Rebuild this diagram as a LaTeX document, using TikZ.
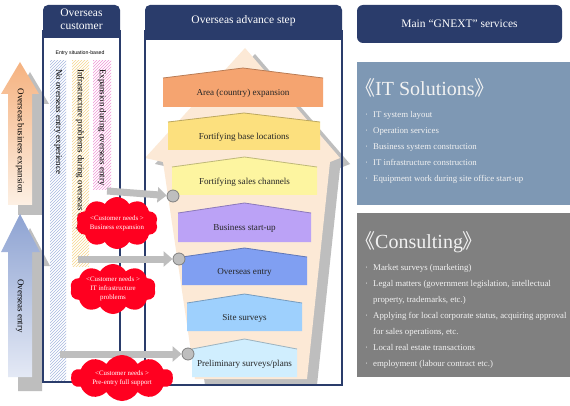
\documentclass[tikz,border=0pt]{standalone}
\usepackage{fontspec}
\setmainfont{Liberation Serif}
\setsansfont{Liberation Sans}
\newfontfamily\cjk{Noto Sans CJK SC}
\usetikzlibrary{arrows.meta,shapes.symbols,patterns}
\definecolor{gnavy}{RGB}{42,60,107}
\definecolor{stepback}{RGB}{252,233,214}
\definecolor{shadowgray}{RGB}{190,190,190}
\definecolor{needred}{RGB}{255,0,32}
\definecolor{itblue}{RGB}{126,152,180}
\definecolor{consultgray}{RGB}{128,128,128}
\definecolor{paneltext}{RGB}{242,242,242}
\definecolor{steporange}{RGB}{245,164,112}
\definecolor{stepyellow}{RGB}{252,224,126}
\definecolor{steplemon}{RGB}{253,245,160}
\definecolor{steppurple}{RGB}{187,162,246}
\definecolor{stepblue}{RGB}{128,159,242}
\definecolor{stepsky}{RGB}{158,208,253}
\definecolor{steppale}{RGB}{208,238,254}
\newcommand{\svcitem}{\makebox[8pt][l]{·}}

\begin{document}
\begin{tikzpicture}[x=1pt,y=-1pt,
  headtext/.style={text=white,font=\fontsize{11.5}{13}\selectfont,align=center,inner sep=0pt},
  frameline/.style={draw=gnavy,line width=1.2pt},
  coltext/.style={rotate=-90,anchor=west,inner sep=0pt,font=\fontsize{8.9}{10}\selectfont},
  steptext/.style={inner sep=0pt,text=black!85,font=\fontsize{9.1}{10}\selectfont},
  needcloud/.style={cloud,cloud puffs=10,cloud puff arc=120,cloud ignores aspect,fill=needred,
    text=white,font=\fontsize{6.9}{9}\selectfont,align=center,inner sep=0pt},
  feedarrow/.style={draw=shadowgray,line width=7pt,-{Triangle[length=9pt,width=15pt]}},
  dotnode/.style={circle,fill=shadowgray,draw=gray,line width=0.8pt,minimum size=12pt,inner sep=0pt},
  listtext/.style={anchor=north west,align=left,inner sep=0pt,text=paneltext,font=\fontsize{8.8}{16}\selectfont},
  boxtitle/.style={anchor=base west,inner sep=0pt,text=paneltext,font=\fontsize{20}{22}\selectfont}]

\useasboundingbox (0,0) rectangle (570,406);
\fill[white] (0,0) rectangle (570,406);

% growth arrows
\fill[shadowgray,xshift=10pt,yshift=-10pt] (20,62) -- (39,94) -- (32,94) -- (32,205) -- (8,205) -- (8,94) -- (1,94) -- cycle;
\shade[top color={rgb,255:red,245;green,178;blue,128},bottom color={rgb,255:red,253;green,240;blue,228}]
  (20,62) -- (39,94) -- (32,94) -- (32,205) -- (8,205) -- (8,94) -- (1,94) -- cycle;
\fill[shadowgray,xshift=10pt,yshift=-14pt] (20,214) -- (40,252) -- (32,252) -- (32,377) -- (8,377) -- (8,252) -- (1,252) -- cycle;
\shade[top color={rgb,255:red,142;green,163;blue,210},bottom color={rgb,255:red,228;green,233;blue,245}]
  (20,214) -- (40,252) -- (32,252) -- (32,377) -- (8,377) -- (8,252) -- (1,252) -- cycle;
\node[rotate=-90,inner sep=0pt,font=\fontsize{9}{10}\selectfont] (bizexp) at (20,141) {Overseas business expansion};
\node[rotate=-90,inner sep=0pt,font=\fontsize{9}{10}\selectfont] (entryarrow) at (20,306) {Overseas entry};

% overseas customer
\node[inner sep=0pt,font=\sffamily\fontsize{5.2}{6}\selectfont] (situation) at (80,53) {Entry situation-based};
\fill[pattern=north east lines,pattern color={rgb,255:red,168;green,184;blue,224}] (50,61) rectangle (66,380);
\fill[pattern=north east lines,pattern color={rgb,255:red,246;green,214;blue,140}] (72,61) rectangle (89,266);
\fill[pattern=north east lines,pattern color={rgb,255:red,240;green,150;blue,214}] (93,61) rectangle (111,190);
\node[coltext] (noentry) at (58,69) {No overseas entry experience};
\node[coltext] (infra) at (80,69) {Infrastructure problems during overseas entry};
\node[coltext] (expansion) at (102,69) {Expansion during overseas entry};

% advance steps
\fill[shadowgray,xshift=10pt,yshift=-6pt] (245,48) -- (340,158) -- (330,162) -- (307,379) -- (195,379) -- (163,162) -- (145,158) -- cycle;
\fill[stepback] (245,48) -- (340,158) -- (330,162) -- (307,379) -- (195,379) -- (163,162) -- (145,158) -- cycle;
\foreach \name/\xl/\xr/\yp/\ys/\yb/\col/\txt in {
  area/163/323/68/78/107/steporange/{Area (country) expansion},
  base/168/320/113/122/150/stepyellow/{Fortifying base locations},
  sales/172/317/157/167/195/steplemon/{Fortifying sales channels},
  startup/178/311/203/213/242/steppurple/{Business start-up},
  entry/182/307/248/257/285/stepblue/{Overseas entry},
  site/187/302/294/303/331/stepsky/{Site surveys},
  prelim/192/297/339/349/377/steppale/{Preliminary surveys/plans}}
{
  \fill[\col] (\xl,\yb) -- (\xl,\ys) -- ({(\xl+\xr)/2},\yp) -- (\xr,\ys) -- (\xr,\yb) -- cycle;
  \draw[\col!75!black,line width=0.8pt] (\xl,\ys) -- ({(\xl+\xr)/2},\yp) -- (\xr,\ys);
  \node[steptext] (\name) at ({(\xl+\xr)/2},{(\ys+\yb)/2+1}) {\txt};
}

% frames
\draw[frameline] (43,30) |- (120,382) -- (120,30);
\fill[gnavy] (43,38) [rounded corners=5pt] -- (43,5) -- (120,5) [sharp corners] -- (120,38) -- cycle;
\node[headtext] (custhead) at (81.5,19) {Overseas\\customer};
\draw[frameline] (145,30) |- (342,385) -- (342,30);
\fill[gnavy] (145,40) [rounded corners=5pt] -- (145,5) -- (342,5) [sharp corners] -- (342,40) -- cycle;
\node[headtext] (stephead) at (243.5,21) {Overseas advance step};

% needs
\node[dotnode] (dot1) at (173,196) {};
\node[dotnode] (dot2) at (179,259) {};
\node[dotnode] (dot3) at (188,354) {};
\coordinate (feed1) at (107,191);
\coordinate (feed2) at (78,259);
\coordinate (feed3) at (60,354);
\draw[feedarrow] (feed1) -- (dot1);
\draw[feedarrow] (feed2) -- (dot2);
\draw[feedarrow] (feed3) -- (dot3);
\node[needcloud,minimum width=82pt,minimum height=52pt] (need1) at (117,223) {<Customer needs >\\Business expansion};
\node[needcloud,minimum width=86pt,minimum height=50pt] (need2) at (113,289) {<Customer needs >\\IT infrastructure\\problems};
\node[needcloud,minimum width=102pt,minimum height=46pt] (need3) at (122,378) {<Customer needs >\\Pre-entry full support};

% services
\node[fill=gnavy,rounded corners=6pt,minimum width=205pt,minimum height=38pt,headtext] (gnexthead) at (459.5,24) {Main “GNEXT” services};
\node[fill=itblue,anchor=north west,inner sep=0pt,minimum width=213pt,minimum height=143pt] (itbox) at (357,62) {};
\node[boxtitle] (ittitle) at (355,96) {{\cjk 《}IT Solutions{\cjk 》}};
\node[listtext] (itlist) at (365,111) {\svcitem IT system layout\\
  \svcitem Operation services\\
  \svcitem Business system construction\\
  \svcitem IT infrastructure construction\\
  \svcitem Equipment work during site office start-up};
\node[fill=consultgray,anchor=north west,inner sep=0pt,minimum width=213pt,minimum height=164pt] (consultbox) at (357,213) {};
\node[boxtitle] (consulttitle) at (355,248) {{\cjk 《}Consulting{\cjk 》}};
\node[listtext] (consultlist) at (365,264) {\svcitem Market surveys (marketing)\\
  \svcitem Legal matters (government legislation, intellectual\\
  \hspace*{8pt}property, trademarks, etc.)\\
  \svcitem Applying for local corporate status, acquiring approval\\
  \hspace*{8pt}for sales operations, etc.\\
  \svcitem Local real estate transactions\\
  \svcitem employment (labour contract etc.)};
\end{tikzpicture}
\end{document}
